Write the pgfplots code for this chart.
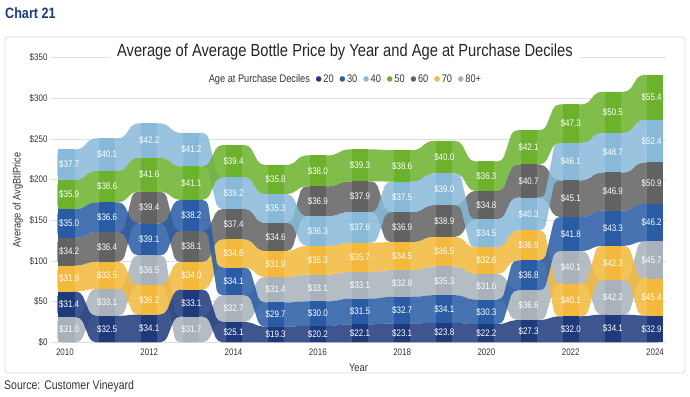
\documentclass[border=0pt]{standalone}
\usepackage{fontspec}
\setmainfont{Liberation Sans}[FakeStretch=0.84]
\usepackage{pgfplots}
\usepackage{pgfplotstable}
\pgfplotsset{compat=1.18}

\definecolor{c20}{HTML}{1E3A7A}
\definecolor{c30}{HTML}{2A5CA6}
\definecolor{c40}{HTML}{88B9D8}
\definecolor{c50}{HTML}{6CB22C}
\definecolor{c60}{HTML}{626262}
\definecolor{c70}{HTML}{F2B93C}
\definecolor{c80}{HTML}{A9B2BA}
\definecolor{chartblue}{HTML}{1B3A7A}
\definecolor{txt}{HTML}{333333}

% Average bottle price by year and age decile (20,30,40,50,60,70,80+)
\pgfplotstableread{
year s20  s30  s40  s50  s60  s70  s80
2010 31.4 35.0 37.7 35.9 34.2 31.9 31.0
2011 32.5 36.6 40.1 38.6 36.4 33.5 33.1
2012 34.1 39.1 42.2 41.6 39.4 36.2 36.5
2013 33.1 38.2 41.2 41.1 38.1 34.0 31.7
2014 25.1 34.1 39.2 39.4 37.4 34.6 32.7
2015 19.3 29.7 35.3 35.8 34.6 31.9 31.4
2016 20.2 30.0 36.3 38.0 36.9 35.3 33.1
2017 22.1 31.5 37.6 39.3 37.9 35.7 33.1
2018 23.1 32.7 37.5 38.6 36.9 34.5 32.9
2019 23.8 34.1 39.0 40.0 38.9 36.5 35.3
2020 22.2 30.3 34.5 36.3 34.8 32.6 31.6
2021 27.3 36.8 40.3 42.1 40.7 36.9 36.6
2022 32.0 41.8 46.1 47.3 45.1 40.1 40.1
2023 34.1 43.3 48.7 50.5 46.9 42.3 42.2
2024 32.9 46.2 52.4 55.4 50.9 45.4 45.7
}\datatable

\def\serieslist{s20/0,s30/1,s40/2,s50/3,s60/4,s70/5,s80/6}
\def\hw{0.38}\def\sw{0.19}
\gdef\ALLLAB{}
\gdef\ALLSTRIPS{}

\newcommand\buildseries[3]{%
  \gdef\UP{}\gdef\DN{}%
  \foreach \i in {0,...,14}{%
    \pgfplotstablegetelem{\i}{#1}\of\datatable
    \global\let\vj\pgfplotsretval
    \gdef\lo{0}%
    \foreach \cc/\kk in \serieslist{%
      \pgfplotstablegetelem{\i}{\cc}\of\datatable
      \let\vk\pgfplotsretval
      \pgfmathparse{((\vk<\vj)||((\vk==\vj)&&(\kk<#2)))?\vk:0}%
      \pgfmathsetmacro\tmp{\lo+\pgfmathresult}%
      \global\let\lo\tmp
    }%
    \pgfmathsetmacro\hi{\lo+\vj}%
    \pgfmathsetmacro\ymid{\lo+0.5*\vj}%
    \pgfmathsetmacro\yr{2010+\i}%
    \let\xl\yr
    \ifnum\i=0 \def\xl{2010.1}\fi
    \ifnum\i=14 \def\xl{2023.92}\fi
    \pgfmathsetmacro\xa{\yr-\hw}%
    \pgfmathsetmacro\xb{\yr+\hw}%
    \ifnum\i=0 \def\xa{2009.82}\fi
    \ifnum\i=14 \def\xb{2024.18}\fi
    \pgfmathsetmacro\sxa{\yr-\sw}%
    \pgfmathsetmacro\sxb{\yr+\sw}%
    \ifnum\i=0 \def\sxa{2009.84}\def\sxb{2010.24}\fi
    \ifnum\i=14 \def\sxa{2023.82}\def\sxb{2024.18}\fi
    \xdef\UP{\UP (\xa,\hi) (\xb,\hi)}%
    \xdef\DN{(\xb,\lo) (\xa,\lo) \DN}%
    \xdef\ALLSTRIPS{\unexpanded\expandafter{\ALLSTRIPS}\noexpand\addplot[forget plot, draw=none, fill=#3]
       coordinates {(\sxa,\lo) (\sxb,\lo) (\sxb,\hi) (\sxa,\hi)} -- cycle;}%
    \xdef\ALLLAB{\ALLLAB (\xl,\ymid) [\vj]}%
  }%
  \expandafter\xdef\csname BAND#1\endcsname{\UP\DN}%
}
\buildseries{s20}{0}{c20}
\buildseries{s30}{1}{c30}
\buildseries{s40}{2}{c40}
\buildseries{s50}{3}{c50}
\buildseries{s60}{4}{c60}
\buildseries{s70}{5}{c70}
\buildseries{s80}{6}{c80}

\newcommand\band[2]{%
  \edef\cmd{\noexpand\addplot[forget plot, draw=none, fill=#2, fill opacity=0.86, rounded corners=5pt] coordinates {\csname BAND#1\endcsname} -- cycle;}\cmd}

\begin{document}
\begin{tikzpicture}
\useasboundingbox (0pt,0pt) rectangle (690pt,396pt);
\draw[black!13, line width=0.8pt, rounded corners=3pt] (5pt,23pt) rectangle (685pt,359pt);
\node[anchor=west, inner sep=0pt, font=\bfseries\fontsize{15}{15}\selectfont, text=chartblue] at (5pt,383pt) {Chart 21};
\node[anchor=west, inner sep=0pt, font=\fontsize{12.5}{12.5}\selectfont, text=txt] at (4pt,10pt) {Source: Customer Vineyard};
\begin{axis}[
  at={(51pt,53.7pt)}, anchor=south west,
  scale only axis, width=615pt, height=284.7pt,
  xmin=2009.67, xmax=2024.26, ymin=0, ymax=350,
  clip=false,
  xtick={2010,2012,...,2024}, ytick={0,50,...,350},
  /pgf/number format/assume math mode=true,
  /pgf/number format/1000 sep={},
  yticklabel={\$\pgfmathprintnumber{\tick}},
  axis line style={draw=none}, major tick length=0pt,
  ymajorgrids, grid style={black!13, line width=0.7pt},
  tick label style={font=\fontsize{9.5}{9.5}\selectfont, text=txt},
  xticklabel style={yshift=-3pt},
  xlabel={Year}, ylabel={Average of AvgBtlPrice},
  xlabel style={yshift=-2pt},
  label style={font=\fontsize{11}{11}\selectfont, text=txt},
  title={Average of Average Bottle Price by Year and Age at Purchase Deciles},
  title style={at={(0.478,1)}, anchor=center, fill=white, inner xsep=7pt,
    font=\fontsize{17.5}{18}\selectfont, text=black!85},
  legend style={at={(0.478,0.925)}, anchor=center, draw=none, fill=none,
    font=\fontsize{11}{11}\selectfont, text=txt,
    /tikz/every even column/.append style={column sep=4pt}},
  legend columns=-1,
]
\addlegendimage{legend image code/.code={}}
\addlegendentry{Age at Purchase Deciles}
\addlegendimage{legend image code/.code={\fill[c20] (0pt,0pt) circle (2.5pt);}}
\addlegendentry{20}
\addlegendimage{legend image code/.code={\fill[c30] (0pt,0pt) circle (2.5pt);}}
\addlegendentry{30}
\addlegendimage{legend image code/.code={\fill[c40] (0pt,0pt) circle (2.5pt);}}
\addlegendentry{40}
\addlegendimage{legend image code/.code={\fill[c50] (0pt,0pt) circle (2.5pt);}}
\addlegendentry{50}
\addlegendimage{legend image code/.code={\fill[c60] (0pt,0pt) circle (2.5pt);}}
\addlegendentry{60}
\addlegendimage{legend image code/.code={\fill[c70] (0pt,0pt) circle (2.5pt);}}
\addlegendentry{70}
\addlegendimage{legend image code/.code={\fill[c80] (0pt,0pt) circle (2.5pt);}}
\addlegendentry{80+}

\band{s80}{c80}
\band{s70}{c70}
\band{s60}{c60}
\band{s40}{c40}
\band{s50}{c50}
\band{s30}{c30}
\band{s20}{c20}

\ALLSTRIPS

\edef\cmd{\noexpand\addplot[forget plot, draw=none, mark=none, point meta=explicit symbolic,
  nodes near coords={\noexpand\$\noexpand\pgfplotspointmeta}, nodes near coords align=center,
  every node near coord/.append style={font=\noexpand\fontsize{9.5}{9.5}\noexpand\selectfont, text=white, anchor=center, inner sep=0pt}]
  coordinates {\ALLLAB};}\cmd
\end{axis}
\end{tikzpicture}
\end{document}
